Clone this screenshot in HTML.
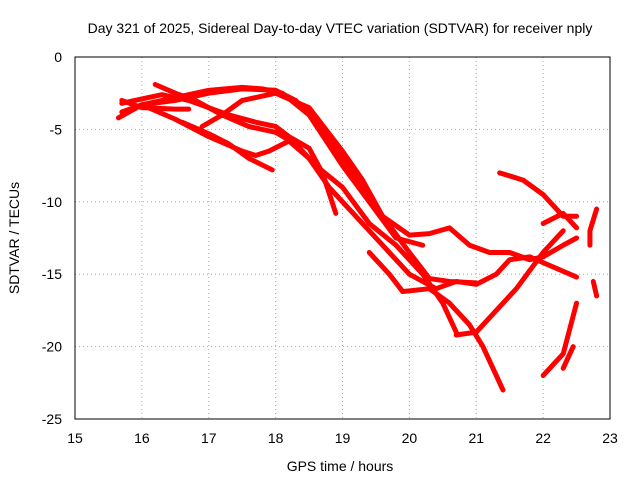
<!DOCTYPE html>
<html><head><meta charset="utf-8"><style>
body{margin:0;background:#fff;}
svg{display:block;font-family:"Liberation Sans",sans-serif;}
</style></head><body>
<svg id="c" width="640" height="480">
<text x="340" y="33" text-anchor="middle" font-size="14">Day 321 of 2025, Sidereal Day-to-day VTEC variation (SDTVAR) for receiver nply</text>
<text x="340" y="471" text-anchor="middle" font-size="14">GPS time / hours</text>
<text transform="translate(19,238) rotate(-90)" text-anchor="middle" font-size="14">SDTVAR / TECUs</text>
<g id="grid"></g><g id="tracks"></g>
<rect x="75" y="57" width="535" height="362" fill="none" stroke="#000"/>
</svg>
<script>
const xTicks=[15,16,17,18,19,20,21,22,23];
const yTicks=[0,-5,-10,-15,-20,-25];
const tracks=[
[[15.65,-4.2],[16,-3.3],[16.5,-3],[17,-2.5],[17.5,-2.2],[18,-2.3],[18.3,-3],[18.7,-5],[19,-7],[19.3,-9],[19.6,-11],[20,-12.3],[20.3,-12.2],[20.6,-11.8],[20.9,-13],[21.2,-13.5],[21.5,-13.5],[21.8,-14],[22,-13.8],[22.3,-13],[22.5,-12.5]],
[[15.7,-3],[16,-3.5],[16.5,-3.6],[16.7,-3.6]],
[[15.7,-3.2],[16,-2.9],[16.3,-2.6],[16.7,-3],[17,-3.5],[17.3,-4],[17.7,-4.5],[18,-4.8],[18.2,-5.5],[18.5,-6.3],[18.7,-8],[18.9,-10.8]],
[[16.2,-1.9],[16.5,-2.5],[16.8,-3],[17.2,-4],[17.6,-4.8],[18,-5.2],[18.3,-6],[18.6,-7.5],[19,-9],[19.4,-11.5],[19.8,-13],[20.2,-15],[20.5,-17],[20.7,-19]],
[[16.1,-3.5],[16.5,-4.3],[17,-5.5],[17.5,-6.5],[17.7,-6.8],[17.9,-6.5],[18.2,-5.8],[18.5,-7],[18.8,-9],[19.2,-11],[19.6,-13],[20,-15],[20.4,-16],[20.7,-15.5],[21,-15.7],[21.3,-15],[21.5,-14],[21.8,-13.8],[22,-14.2],[22.5,-15.2]],
[[16.9,-4.8],[17.2,-4],[17.5,-3],[18,-2.5],[18.5,-3.5],[19,-6.5],[19.3,-8.5],[19.6,-11],[20,-13.5],[20.3,-15.3],[20.6,-15.5],[21,-15.6]],
[[16.6,-4.5],[17,-5.3],[17.3,-6],[17.6,-7],[17.95,-7.8]],
[[15.7,-3.8],[16,-3.3],[16.5,-2.8],[17,-2.3],[17.5,-2.1],[17.8,-2.2],[18.1,-2.5],[18.5,-4],[19,-7.5],[19.4,-10],[19.8,-12.5],[20.2,-13]],
[[19.4,-13.5],[19.7,-15],[19.9,-16.2],[20.3,-16],[20.6,-17],[20.9,-18.5],[21.1,-20],[21.4,-23]],
[[20.7,-19.2],[21,-19],[21.3,-17.5],[21.6,-16],[22,-13.5],[22.3,-12]],
[[21.35,-8],[21.7,-8.5],[22,-9.5],[22.3,-11],[22.5,-11]],
[[22,-11.5],[22.3,-10.8],[22.5,-11.8]],
[[22,-22],[22.3,-20.5],[22.5,-17]],
[[22.3,-21.5],[22.45,-20]],
[[22.8,-10.5],[22.7,-12],[22.7,-13]],
[[22.75,-15.5],[22.8,-16.5]]
];
const X=v=>75+(v-15)*535/8, Y=v=>57-v*362/25;
const NS='http://www.w3.org/2000/svg';
const g=document.getElementById('grid'), t=document.getElementById('tracks');
function mk(tag,a,p){const e=document.createElementNS(NS,tag);for(const k in a)e.setAttribute(k,a[k]);p.appendChild(e);return e;}
xTicks.forEach(v=>{
 const l=mk('line',{x1:X(v),x2:X(v),y1:57,y2:419,stroke:'#aaa','stroke-dasharray':'1,3'},g);
 
 
 const s=mk('text',{x:X(v),y:443,'text-anchor':'middle','font-size':14},g);s.textContent=v;
 
 
});
yTicks.forEach(v=>{
 const l=mk('line',{x1:75,x2:610,y1:Y(v),y2:Y(v),stroke:'#aaa','stroke-dasharray':'1,3'},g);
 
 
 const s=mk('text',{x:62,y:Y(v)+5,'text-anchor':'end','font-size':14},g);s.textContent=v;
 
 
});
tracks.forEach(tr=>{
 const p=mk('polyline',{points:tr.map(d=>X(d[0])+','+Y(d[1])).join(' '),fill:'none',stroke:'#f00','stroke-width':5,'stroke-linejoin':'round','stroke-linecap':'round'},t);
 
 
});
</script>
</body></html>
